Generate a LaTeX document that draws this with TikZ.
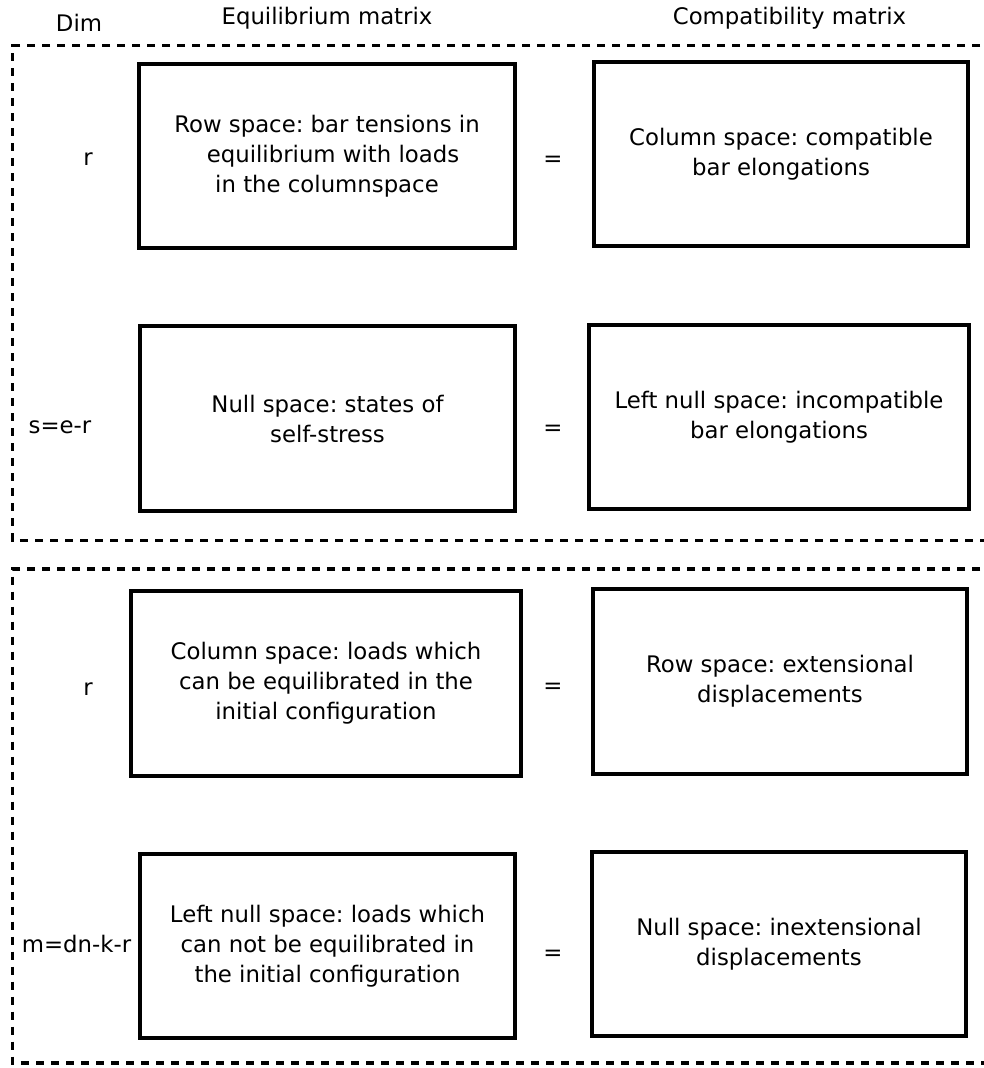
\documentclass[tikz,border=0pt]{standalone}
\usepackage{fontspec}
\setmainfont{DejaVu Sans}
\frenchspacing
\begin{document}
\begin{tikzpicture}[x=1pt,y=-1pt,
  every node/.style={font=\fontsize{22.8}{30}\selectfont\frenchspacing, inner sep=0pt},
  space/.style={draw=black, line width=3.3pt, align=center},
  dashbox/.style={draw=black, line width=3.5pt, dash pattern=on 8pt off 7pt},
  lbl/.style={anchor=base}
]
\useasboundingbox (0,0) rectangle (983,1068);
% dashed groups
\draw[dashbox] (995,45.5) -- (12.5,45.5) -- (12.5,540.5) -- (995,540.5);
\draw[dashbox] (995,569) -- (12.5,569) -- (12.5,1063) -- (995,1063);
% headers
\node[lbl] (hdim) at (79,31) {Dim};
\node[lbl] (heq) at (327,24) {Equilibrium matrix};
\node[lbl] (hco) at (789.5,24) {Compatibility matrix};
% dims
\node[lbl] (d1) at (88,165) {r};
\node[lbl] (d2) at (60,433) {s=e-r};
\node[lbl] (d3) at (88,695) {r};
\node[lbl] (d4) at (76.5,952) {m=dn-k-r};
% boxes
\node[space, minimum width=376pt, minimum height=184pt] (a1) at (327,156)
  {Row space: bar tensions in\\\hspace*{12pt}equilibrium with loads\\in the columnspace};
\node[space, minimum width=374pt, minimum height=184pt] (b1) at (781,154)
  {Column space: compatible\\bar elongations};
\node[space, minimum width=375pt, minimum height=185pt] (a2) at (327.5,418.5)
  {Null space: states of\\self-stress};
\node[space, minimum width=380pt, minimum height=184pt] (b2) at (779,417)
  {Left null space: incompatible\\bar elongations};
\node[space, minimum width=390pt, minimum height=185pt] (a3) at (326,683.5)
  {Column space: loads which\\can be equilibrated in the\\initial configuration};
\node[space, minimum width=374pt, minimum height=185pt] (b3) at (780,681.5)
  {Row space: extensional\\displacements};
\node[space, minimum width=375pt, minimum height=184pt] (a4) at (327.5,946)
  {Left null space: loads which\\can not be equilibrated in\\the initial configuration};
\node[space, minimum width=374pt, minimum height=184pt] (b4) at (779,944)
  {Null space: inextensional\\displacements};
% equals
\node (e1) at (553,161) {=};
\node (e2) at (553,430) {=};
\node (e3) at (553,688) {=};
\node (e4) at (553,955) {=};
\end{tikzpicture}
\end{document}
